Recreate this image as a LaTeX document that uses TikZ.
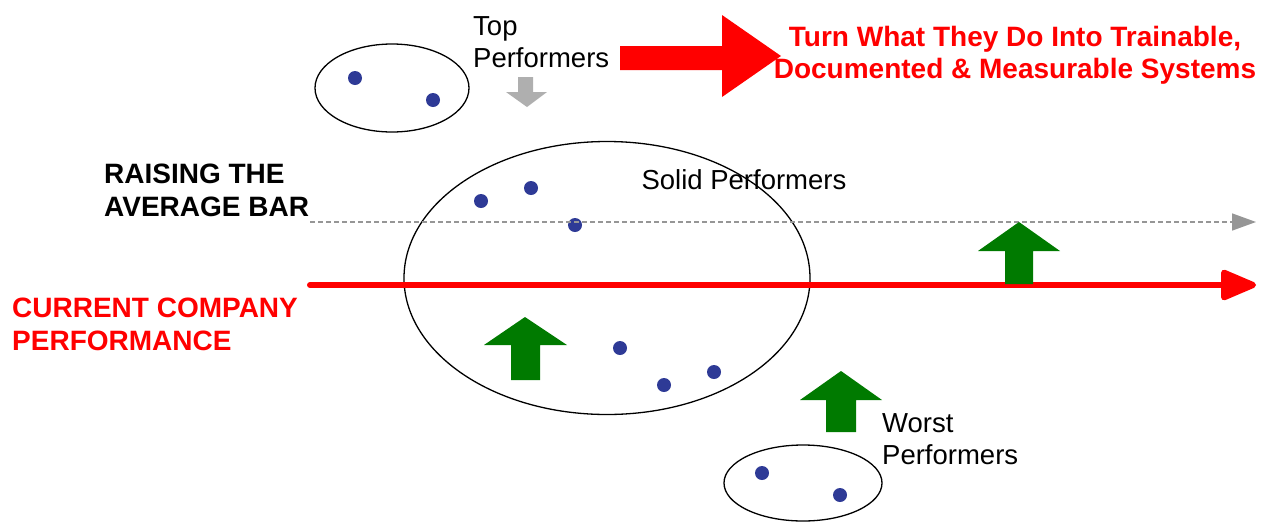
\documentclass[tikz,border=0pt]{standalone}
\usepackage{fontspec}
\setmainfont{Liberation Sans}
\usetikzlibrary{arrows.meta,shapes.geometric}
\definecolor{dotblue}{RGB}{46,58,150}
\definecolor{arrgreen}{RGB}{0,122,0}
\definecolor{arrred}{RGB}{255,0,0}
\definecolor{arrgray}{RGB}{175,175,175}
\definecolor{dashgray}{RGB}{150,150,150}
\begin{document}
\begin{tikzpicture}[x=1pt,y=-1pt,
  dot/.style={circle,fill=dotblue,inner sep=0pt,minimum size=14pt},
  group/.style={ellipse,draw=black,line width=1.3pt,inner sep=0pt},
  lbl/.style={inner sep=0pt,align=left,font=\fontsize{27.5}{32}\selectfont},
  bigred/.style={inner sep=0pt,align=center,text=arrred,font=\fontsize{28}{32}\selectfont\bfseries},
  heading/.style={inner sep=0pt,align=left,font=\fontsize{28}{33}\selectfont\bfseries},
  blockgreen/.style={fill=arrgreen},
]
\useasboundingbox (0,0) rectangle (1262,523);
% groups
\node[group,minimum width=154pt,minimum height=88pt] (topg) at (392,88) {};
\node[group,minimum width=406pt,minimum height=273pt] (solidg) at (607,278) {};
\node[group,minimum width=158pt,minimum height=76pt] (worstg) at (803,483) {};
% dots
\node[dot] (t1) at (355,78) {};
\node[dot] (t2) at (433,100) {};
\node[dot] (s1) at (481,201) {};
\node[dot] (s2) at (531,188) {};
\node[dot] (s3) at (575,225) {};
\node[dot] (s4) at (620,348) {};
\node[dot] (s5) at (664,385) {};
\node[dot] (s6) at (714,372) {};
\node[dot] (w1) at (762,473) {};
\node[dot] (w2) at (840,495) {};
% lines
\coordinate (dashA) at (310,222);
\coordinate (dashB) at (1256,222);
\coordinate (redA) at (310,285);
\coordinate (redB) at (1256,285);
\draw[dashgray,line width=1.6pt,dash pattern=on 5pt off 3pt,-{Triangle[length=24pt,width=17pt,fill=dashgray]}] (dashA) -- (dashB);
\draw[arrred,line width=6pt,line cap=round,-{Triangle[length=40pt,width=32pt,round=false]}] (redA) -- (redB);
% block arrows
\fill[arrred] (620,46) -- (722,46) -- (722,15) -- (781,56) -- (722,97) -- (722,70) -- (620,70) -- cycle;
\fill[arrgray] (518,77) -- (533,77) -- (533,92) -- (547,92) -- (527,107) -- (506,92) -- (518,92) -- cycle;
\fill[blockgreen] (1005,284) -- (1005,251) -- (978,251) -- (1019,222) -- (1060,251) -- (1033,251) -- (1033,284) -- cycle;
\fill[blockgreen] (511,380) -- (511,345) -- (484,345) -- (525,317) -- (567,345) -- (540,345) -- (540,380) -- cycle;
\fill[blockgreen] (826,432) -- (826,400) -- (800,400) -- (841,371) -- (882,400) -- (856,400) -- (856,432) -- cycle;
% texts
\node[lbl,anchor=north west] (toplbl) at (473,16) {Top\\Performers};
\node[bigred,anchor=north] (goal) at (1015,26) {Turn What They Do Into Trainable,\\Documented \& Measurable Systems};
\node[heading,anchor=north west] (raise) at (104,164) {RAISING THE\\AVERAGE BAR};
\node[heading,text=arrred,anchor=north west] (current) at (12,298) {CURRENT COMPANY\\PERFORMANCE};
\node[lbl] (solidlbl) at (744,180) {Solid Performers};
\node[lbl,anchor=north west] (worstlbl) at (882,413) {Worst\\Performers};
\end{tikzpicture}
\end{document}
